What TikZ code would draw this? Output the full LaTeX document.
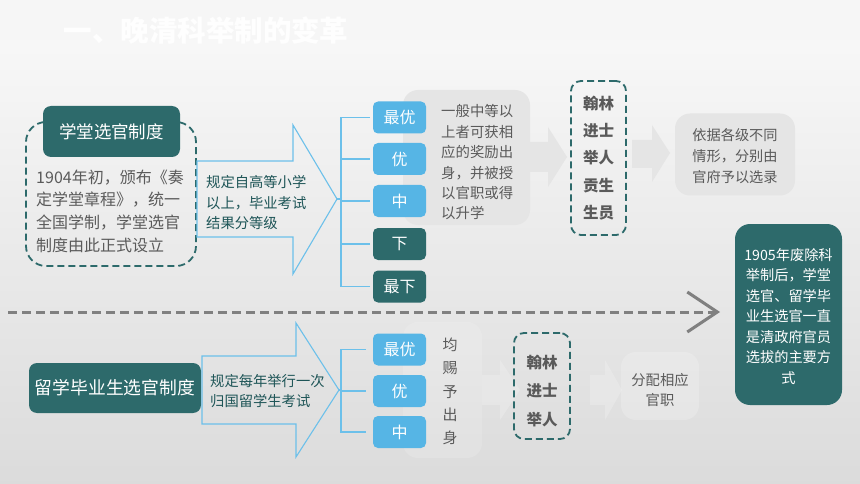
\documentclass[tikz,border=0pt]{standalone}
\usepackage{fontspec}
\setmainfont{Noto Sans CJK SC}
\usetikzlibrary{arrows.meta}

\definecolor{tealD}{HTML}{2D6A6B}
\definecolor{skyB}{HTML}{56B5E5}
\definecolor{lineB}{HTML}{6CC0EA}
\definecolor{panelG}{HTML}{E5E5E5}
\definecolor{txtG}{HTML}{5A5A5A}
\definecolor{ruleT}{HTML}{1E5557}
\definecolor{sepG}{HTML}{808080}
\definecolor{bgTop}{HTML}{F6F6F6}
\definecolor{paleT}{HTML}{FEFEFE}

\begin{document}
\begin{tikzpicture}[x=1pt,y=-1pt,
    headbox/.style={fill=tealD, text=white, rounded corners=8pt, inner sep=0pt, font=\fontsize{17.5}{20}\selectfont},
    levelbox/.style={rounded corners=5pt, text=white, minimum width=53pt, minimum height=32pt, inner sep=0pt, font=\fontsize{16}{18}\selectfont},
    frame/.style={draw=tealD, line width=1.8pt, dash pattern=on 7pt off 4pt, rounded corners=10pt, inner sep=0pt},
    panel/.style={fill=panelG, rounded corners=15pt, inner sep=0pt},
    greytext/.style={text=txtG, inner sep=0pt, align=left, font=\fontsize{14.4}{20.4}\selectfont},
    ruletext/.style={text=ruleT, inner sep=0pt, align=left, font=\fontsize{14.3}{20.5}\selectfont},
    bracket/.style={draw=lineB, line width=1.4pt},
    outline/.style={draw=lineB, line width=1.1pt, line join=miter},
    blockarrow/.style={fill=panelG}]

    % background and bounding box
    \shade[top color=white!98!black, bottom color=black!14] (0,0) rectangle (860,484);
    \fill[bgTop] (0,0) rectangle (860,40);
    \useasboundingbox (0,0) rectangle (860,484);

    % the pale heading
    \node[text=paleT, font=\bfseries\fontsize{28.5}{30}\selectfont, inner sep=0pt] (title) at (206,31) {一、晚清科举制的变革};

    % these are the parts of the upper row
    \node[frame, minimum width=170pt, minimum height=144pt, rounded corners=20pt] (frameA) at (111,194) {};
    \node[headbox, minimum width=137pt, minimum height=51pt] (schoolA) at (111.5,131.5) {学堂选官制度};
    \node[text=txtG, inner sep=0pt, align=left, font=\fontsize{16}{22.6}\selectfont] (descA) at (110,211)
        {1904年初，颁布《奏\\定学堂章程》，统一\\全国学制，学堂选官\\制度由此正式设立};

    \draw[outline] (197,161) -- (293,161) -- (293,125) -- (337,199) -- (293,274) -- (293,237) -- (197,237) -- cycle;
    \node[ruletext, anchor=west] (ruleA) at (206,203) {规定自高等小学\\以上，毕业考试\\结果分等级};
    \coordinate (tipA) at (337,199);

    \fill[panel] (403,90) rectangle (530,225);
    \node[greytext, anchor=west] (rewardA) at (441,162.5)
        {一般中等以\\上者可获相\\应的奖励出\\身，并被授\\以官职或得\\以升学};

    \node[levelbox, fill=skyB] (a1) at (399.5,117.5) {最优};
    \node[levelbox, fill=skyB] (a2) at (399.5,159) {优};
    \node[levelbox, fill=skyB] (a3) at (399.5,201) {中};
    \node[levelbox, fill=tealD] (a4) at (399.5,244) {下};
    \node[levelbox, fill=tealD] (a5) at (399.5,286.5) {最下};

    \draw[bracket] (tipA) -- ++(4,0) coordinate (brA);
    \foreach \n in {a1,a2,a3,a4,a5}
        \draw[bracket] (brA) |- ([xshift=-3pt]\n.west);

    \fill[blockarrow] (530,142) -- (548,142) -- (548,127) -- (567,157) -- (548,187) -- (548,172) -- (530,172) -- cycle;
    \node[frame, minimum width=55pt, minimum height=154pt] (titlesA) at (598.5,158) {};
    \node[text=txtG, inner sep=0pt, align=center, font=\bfseries\fontsize{15.5}{27.2}\selectfont] (namesA) at (598.5,158)
        {翰林\\进士\\举人\\贡生\\生员};

    \fill[blockarrow] (632,140) -- (652,140) -- (652,125) -- (670,153) -- (652,182) -- (652,168) -- (632,168) -- cycle;
    \node[panel, minimum width=120pt, minimum height=82pt] (chooseA) at (735,154.5) {};
    \node[greytext, align=center, font=\fontsize{14.2}{21}\selectfont] (chooseTxt) at (735,156) {依据各级不同\\情形，分别由\\官府予以选录};

    % the dashed divider
    \coordinate (sepL) at (8,312);
    \coordinate (sepR) at (720,312);
    \draw[sepG, line width=3pt, dash pattern=on 9pt off 5pt, -{Straight Barb[length=30pt,width=40pt,line width=3pt]}] (sepL) -- (sepR);

    \node[fill=tealD, rounded corners=15pt, minimum width=107pt, minimum height=181pt, inner sep=0pt] (endBox) at (788.5,314.5) {};
    \node[text=white, align=center, inner sep=0pt, font=\fontsize{14.2}{20.5}\selectfont] (endTxt) at (788.5,316.5)
        {1905年废除科\\举制后，学堂\\选官、留学毕\\业生选官一直\\是清政府官员\\选拔的主要方\\式};

    % these are the parts of the lower row
    \node[headbox, minimum width=172pt, minimum height=50pt, font=\fontsize{17.8}{20}\selectfont] (abroadB) at (115,388) {留学毕业生选官制度};

    \draw[outline] (202,356) -- (296,356) -- (296,323) -- (339,390) -- (296,457) -- (296,424) -- (202,424) -- cycle;
    \node[ruletext, anchor=west] (ruleB) at (210,391) {规定每年举行一次\\归国留学生考试};
    \coordinate (tipB) at (339,390);

    \fill[panel, fill=white, fill opacity=0.15] (403,322) rectangle (482,458);
    \node[greytext, align=center, font=\fontsize{15}{23.4}\selectfont] (rewardB) at (450,391.5) {均\\赐\\予\\出\\身};

    \node[levelbox, fill=skyB] (b1) at (399.5,349.5) {最优};
    \node[levelbox, fill=skyB] (b2) at (399.5,391) {优};
    \node[levelbox, fill=skyB] (b3) at (399.5,432) {中};

    \draw[bracket] (tipB) -- ++(2,0) coordinate (brB);
    \foreach \n in {b1,b2,b3}
        \draw[bracket] (brB) |- ([xshift=-7pt]\n.west);

    \fill[white, opacity=0.2] (482,375) -- (500,375) -- (500,360) -- (520,390) -- (500,420) -- (500,405) -- (482,405) -- cycle;
    \fill[white, opacity=0.2] (590,375) -- (605,375) -- (605,360) -- (622,390) -- (605,420) -- (605,405) -- (590,405) -- cycle;

    \node[frame, minimum width=56pt, minimum height=106pt] (titlesB) at (542,386) {};
    \node[text=txtG, inner sep=0pt, align=center, font=\bfseries\fontsize{15.5}{28.5}\selectfont] (namesB) at (542,391)
        {翰林\\进士\\举人};

    \node[panel, fill=white, fill opacity=0.2, minimum width=78pt, minimum height=68pt] (postB) at (660,386) {};
    \node[greytext, align=center, font=\fontsize{14.3}{20}\selectfont] (postTxt) at (660,390) {分配相应\\官职};

\end{tikzpicture}
\end{document}
